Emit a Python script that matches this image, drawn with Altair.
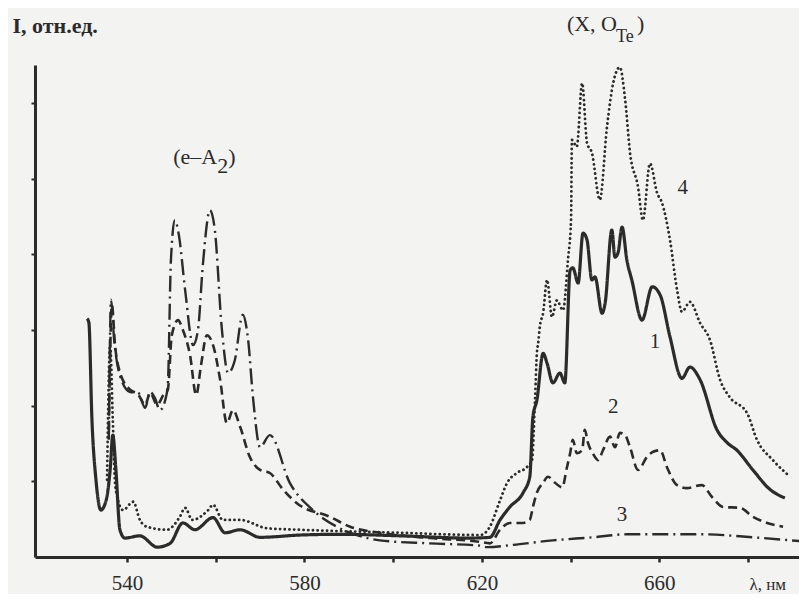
import altair as alt
import pandas as pd

# ---- data (wavelength, nm ; intensity, rel. units) ----
lam1 = [531.0, 531.4, 532.1, 533.0, 534.1, 535.3, 536.2, 536.8, 537.5, 538.4, 539.5, 542.9, 546.8, 549.7,
        552.6, 555.3, 559.4, 562.1, 565.5, 570.0, 579.0, 588.0, 601.5, 617.3, 621.8, 624.1, 626.3,
        629.3, 630.8, 631.5, 632.4, 633.8, 634.7, 636.0, 637.6, 638.7, 639.9, 640.5, 641.7, 642.8,
        643.7, 644.8, 645.5, 647.1, 647.8, 649.3, 650.0, 650.7, 651.6, 652.7, 653.8, 656.1, 658.4,
        660.2, 662.4, 665.1, 666.9, 669.2, 673.0, 675.3, 677.5, 681.1, 685.0, 688.3]
int1 = [3.15, 3.10, 1.81, 1.02, 0.62, 0.75, 1.15, 1.61, 1.15, 0.36, 0.25, 0.28, 0.13, 0.18,
        0.45, 0.36, 0.52, 0.32, 0.36, 0.26, 0.29, 0.30, 0.28, 0.25, 0.26, 0.49, 0.66,
        0.85, 1.06, 1.85, 2.07, 2.69, 2.56, 2.30, 2.43, 2.30, 3.79, 3.82, 3.62, 4.28,
        4.19, 3.66, 3.70, 3.22, 3.36, 4.32, 3.96, 4.02, 4.36, 3.92, 3.66, 3.13, 3.57,
        3.46, 2.91, 2.36, 2.51, 2.34, 1.68, 1.51, 1.41, 1.15, 0.89, 0.78]

lam2 = [535.9, 536.6, 537.3, 538.4, 540.7, 542.5, 544.1, 545.2, 546.8, 548.2, 549.2, 550.1, 551.5,
        552.6, 554.2, 555.6, 556.7, 558.0, 559.4, 561.0, 562.5, 563.9, 565.5, 567.7, 570.0, 572.2,
        575.2, 578.3, 585.8, 590.3, 597.0, 608.3, 619.6, 621.8, 624.1, 626.3, 629.3, 630.8, 631.5,
        632.4, 633.8, 634.9, 636.5, 638.1, 639.2, 639.9, 640.5, 641.4, 642.6, 643.2, 643.9, 645.0,
        646.2, 647.3, 648.9, 650.0, 651.1, 652.3, 653.4, 655.2, 657.2, 658.6, 660.2, 661.7, 664.0,
        666.2, 669.6, 671.9, 674.4, 678.2, 681.1, 684.3, 687.9]
int2 = [1.68, 3.33, 2.80, 2.44, 2.21, 2.15, 2.01, 2.17, 2.01, 2.14, 2.21, 2.93, 3.13,
        3.00, 2.67, 2.14, 2.54, 2.93, 2.80, 2.34, 1.77, 1.94, 1.72, 1.32, 1.15, 1.11,
        0.89, 0.71, 0.53, 0.40, 0.32, 0.25, 0.20, 0.18, 0.36, 0.45, 0.45, 0.49, 0.66,
        0.85, 0.98, 1.06, 0.98, 0.92, 1.19, 1.37, 1.55, 1.37, 1.41, 1.68, 1.51, 1.37,
        1.28, 1.41, 1.59, 1.45, 1.64, 1.61, 1.45, 1.15, 1.32, 1.39, 1.41, 1.19, 0.95,
        0.91, 0.95, 0.79, 0.66, 0.65, 0.53, 0.45, 0.40]

lam3 = [535.9, 536.4, 537.1, 538.4, 540.7, 542.5, 544.1, 545.2, 546.3, 547.4, 548.6, 549.2, 549.9,
        550.8, 551.7, 553.1, 554.9, 556.0, 557.1, 558.7, 559.8, 561.4, 562.8, 564.3, 566.1, 567.3,
        568.4, 570.0, 572.2, 576.7, 581.9, 587.3, 591.8, 597.0, 608.3, 619.6, 621.2, 627.0, 636.0,
        645.0, 652.7, 660.2, 669.8, 681.1, 691.7]
int3 = [1.55, 3.40, 2.87, 2.40, 2.18, 2.17, 1.97, 2.18, 2.10, 1.94, 2.07, 2.27, 3.92,
        4.45, 4.25, 3.53, 2.80, 3.00, 3.86, 4.58, 4.32, 3.00, 2.43, 2.60, 3.20, 2.87,
        2.11, 1.45, 1.61, 0.98, 0.62, 0.40, 0.29, 0.22, 0.18, 0.15, 0.13, 0.16, 0.22,
        0.26, 0.30, 0.30, 0.30, 0.26, 0.21]

lam4 = [535.5, 536.2, 536.8, 537.3, 537.7, 539.1, 541.4, 542.9, 544.5, 549.0, 551.9, 553.1, 554.7,
        558.3, 559.4, 561.6, 565.5, 571.6, 579.0, 601.5, 619.6, 621.8, 624.1, 625.7, 627.9, 630.2,
        631.3, 632.0, 632.4, 632.7, 633.1, 633.8, 634.7, 635.8, 636.9, 638.3, 639.4, 640.1, 640.3,
        641.4, 642.6, 643.7, 644.8, 646.6, 648.2, 649.6, 651.1, 652.3, 653.4, 655.2, 656.3, 657.9,
        659.5, 660.6, 662.4, 664.0, 665.1, 666.9, 669.2, 671.4, 673.7, 675.9, 679.8, 682.0, 685.6,
        689.5]
int4 = [1.02, 2.80, 1.81, 0.98, 0.82, 0.62, 0.73, 0.49, 0.40, 0.36, 0.53, 0.65, 0.49,
        0.62, 0.69, 0.49, 0.49, 0.38, 0.36, 0.32, 0.29, 0.40, 0.75, 0.98, 1.11, 1.19,
        1.28, 2.11, 2.69, 2.83, 3.06, 3.22, 3.66, 3.17, 3.39, 3.26, 3.92, 4.45, 5.51,
        5.42, 6.26, 5.47, 5.34, 4.72, 5.68, 6.26, 6.47, 6.04, 5.34, 4.89, 4.45, 5.20,
        4.81, 4.68, 4.19, 3.53, 3.24, 3.37, 3.09, 2.87, 2.34, 2.11, 1.90, 1.55, 1.28,
        1.06]

# curve number labels
num_text = ["1", "2", "3", "4"]
num_lam = [659.0, 649.6, 651.6, 665.3]
num_int = [2.84, 1.98, 0.55, 4.87]

x_ticks = [540, 560, 580, 600, 620, 640, 660, 680]
y_ticks = [1, 2, 3, 4, 5, 6]
X_DOMAIN = [519.26, 691.49]
Y_DOMAIN = [0, 6.5]

INK = "#2b2b2b"
FONT = "Liberation Serif"

xs = alt.Scale(domain=X_DOMAIN, nice=False, zero=False)
ys = alt.Scale(domain=Y_DOMAIN, nice=False, zero=True)

x_axis = alt.Axis(values=x_ticks, labelExpr="datum.value % 40 == 20 ? datum.label : ''",
                  grid=False, domainWidth=3, domainColor=INK, tickColor=INK, tickWidth=2.5,
                  tickSize=5, labelFont=FONT, labelFontSize=21, labelColor=INK,
                  labelBaseline="alphabetic", labelPadding=27, labelFlush=False,
                  title="λ, нм", titleFont=FONT, titleFontSize=17, titleFontWeight="normal",
                  titleColor=INK, titleAlign="left", titleBaseline="alphabetic",
                  titleX=714, titleY=32)
y_axis = alt.Axis(values=y_ticks, labels=False, grid=False, domainWidth=3, domainColor=INK,
                  tickColor=INK, tickWidth=2, tickSize=4,
                  title="I, отн.ед.", titleFont=FONT, titleFontSize=22, titleFontWeight="bold",
                  titleColor=INK, titleAngle=0, titleAlign="left", titleBaseline="middle",
                  titleX=-23, titleY=-40)


def curve(lams, ints, dash, width, cap="butt"):
    df = pd.DataFrame({"lam": lams, "I": ints})
    return alt.Chart(df).mark_line(color=INK, strokeWidth=width, strokeDash=dash,
                                   strokeCap=cap, interpolate="monotone", clip=True).encode(
        x=alt.X("lam:Q", scale=xs, axis=x_axis),
        y=alt.Y("I:Q", scale=ys, axis=y_axis),
    )


c1 = curve(lam1, int1, [1, 0], 3.2)
c2 = curve(lam2, int2, [9, 5], 2.6)
c3 = curve(lam3, int3, [16, 5, 2, 5], 2.4)
c4 = curve(lam4, int4, [0.1, 4.6], 2.8, cap="round")

nums = alt.Chart(pd.DataFrame({"lam": num_lam, "I": num_int, "t": num_text})).mark_text(
    font=FONT, fontSize=21, color=INK, baseline="middle", align="center").encode(
    x=alt.X("lam:Q", scale=xs), y=alt.Y("I:Q", scale=ys), text="t:N")

# band annotations
ann = pd.DataFrame({"lam": [558.75], "I": [5.24]})
ann2 = pd.DataFrame({"lam": [650.46], "I": [7.04]})


def piece(df, txt, align, dx, dy, size):
    return alt.Chart(df).mark_text(text=txt, font=FONT, fontSize=size, color=INK,
                                   align=align, baseline="middle", dx=dx, dy=dy).encode(
        x=alt.X("lam:Q", scale=xs), y=alt.Y("I:Q", scale=ys))


eA = piece(ann, "(e–A", "right", 7, -3, 22) + piece(ann, "2", "left", 7, 6, 22) + \
    piece(ann, ")", "left", 18, -3, 22)
XO = piece(ann2, "(X, O", "right", 0, 0, 22) + piece(ann2, "Te", "left", -1, 13, 18) + \
    piece(ann2, ")", "left", 20, 0, 22)

chart = alt.layer(c3, c2, c4, c1, nums, eA, XO).properties(
    width=764, height=492,
    autosize=alt.AutoSizeParams(type="none"),
    padding={"left": 27, "top": 57, "right": 0, "bottom": 37},
    background="#f3f3f1",
).configure_view(stroke=None)

chart.save("out.html", embed_options={"renderer": "svg", "actions": False})
